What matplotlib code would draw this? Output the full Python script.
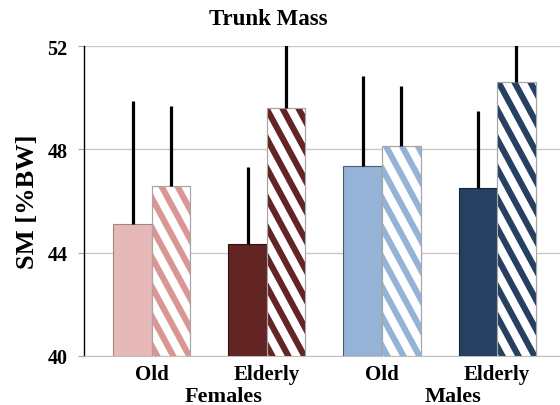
import numpy as np
import matplotlib
matplotlib.use('Agg')
import matplotlib.pyplot as plt
from matplotlib.lines import Line2D
from matplotlib.transforms import IdentityTransform

# 데이터
groups = ['Old', 'Elderly', 'Old', 'Elderly']
sexes = ['Females', 'Males']
solid_vals = [45.11, 44.34, 47.36, 46.50]
solid_err = [4.76, 2.96, 3.48, 2.97]
hatch_vals = [46.57, 49.60, 48.13, 50.62]
hatch_err = [3.11, 3.00, 2.32, 2.60]

solid_colors = ['#E6B9B8', '#632523', '#95B3D7', '#254061']
solid_edges = ['#a08686', '#2e1010', '#4a5a70', '#14243a']
hatch_colors = ['#D99694', '#632523', '#95B3D7', '#254061']

plt.rcParams['font.family'] = ['Liberation Serif', 'DejaVu Serif']
plt.rcParams['font.weight'] = 'bold'

fig = plt.figure(figsize=(5.6, 4.06), dpi=100)
ax = fig.add_axes([0.1505, 0.1207, 0.8495, 0.7635])
ax.set_ylim(40, 52)
ax.set_xlim(-0.587, 3.547)


def stripes(bar, color, period=16.0, slope=1.85, lw=4.4):
    # 막대 안에 사선 줄무늬 (픽셀 좌표로 그리고 막대 모양으로 잘라냄)
    (x0, y0), (x1, y1) = ax.transData.transform(
        [(bar.get_x(), bar.get_y()), (bar.get_x() + bar.get_width(), bar.get_y() + bar.get_height())])
    h = y1 - y0
    start = x0 - h / slope - period
    k = 0
    while start + k * period < x1 + period:
        xs = start + k * period
        ln = Line2D([xs, xs + (h + 20) / slope], [y1 + 10, y1 + 10 - (h + 20)],
                    color=color, linewidth=lw, transform=IdentityTransform(),
                    solid_capstyle='butt', zorder=3.5)
        ax.add_line(ln)
        ln.set_clip_path(bar)
        k += 1


x = np.arange(len(groups))
w = 0.335

for i in range(len(groups)):
    ax.bar(x[i] - w / 2, solid_vals[i] - 40, w, bottom=40, color=solid_colors[i],
           edgecolor=solid_edges[i], linewidth=0.8, zorder=3)
    hb = ax.bar(x[i] + w / 2, hatch_vals[i] - 40, w, bottom=40, color='white',
                edgecolor='#a6a6a6', linewidth=0.8, zorder=3)
    stripes(hb[0], hatch_colors[i])
    ax.bar(x[i] + w / 2, hatch_vals[i] - 40, w, bottom=40, fill=False,
           edgecolor='#a6a6a6', linewidth=0.8, zorder=4)
    ax.errorbar(x[i] - w / 2, solid_vals[i], yerr=[[0], [solid_err[i]]], fmt='none',
                ecolor='black', elinewidth=2.3, capsize=0, zorder=5)
    ax.errorbar(x[i] + w / 2, hatch_vals[i], yerr=[[0], [hatch_err[i]]], fmt='none',
                ecolor='black', elinewidth=2.3, capsize=0, zorder=5)

ax.set_yticks([40, 44, 48, 52])
ax.set_xticks(x)
ax.set_xticklabels(groups, fontsize=15, fontweight='bold')
ax.tick_params(axis='x', length=0, pad=6)
ax.tick_params(axis='y', length=4, color='#a6a6a6', labelsize=14.5, pad=8)
for lab in ax.get_yticklabels():
    lab.set_fontweight('bold')

ax.yaxis.grid(True, color='#c8c8c8', linewidth=1.0, zorder=0)
ax.set_axisbelow(True)
ax.spines['top'].set_visible(False)
ax.spines['right'].set_visible(False)
ax.spines['bottom'].set_color('#c0c0c0')
ax.spines['left'].set_color('black')
ax.spines['left'].set_linewidth(1.0)

ax.set_ylabel('SM [%BW]', fontsize=19, fontweight='bold', labelpad=6)
fig.text(0.479, 0.953, 'Trunk Mass', ha='center', va='center', fontsize=16.5, fontweight='bold')

ax.text(0.62, -0.128, sexes[0], transform=ax.get_xaxis_transform(),
        ha='center', va='center', fontsize=16, fontweight='bold')
ax.text(2.62, -0.128, sexes[1], transform=ax.get_xaxis_transform(),
        ha='center', va='center', fontsize=16, fontweight='bold')

fig.savefig('out.png', dpi=100)
